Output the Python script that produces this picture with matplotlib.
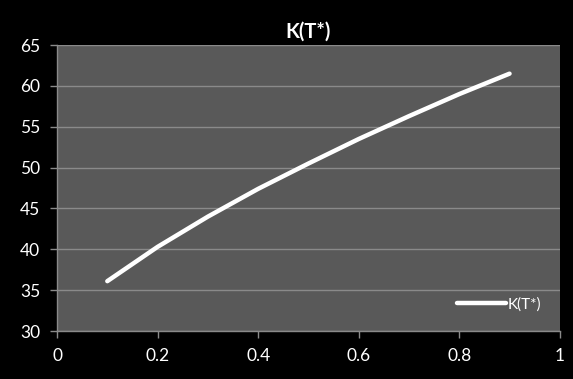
import numpy as np
import matplotlib
matplotlib.use("Agg")
import matplotlib.pyplot as plt
from matplotlib.ticker import FuncFormatter

# data
t_star = [0.1, 0.2, 0.3, 0.4, 0.5, 0.6, 0.7, 0.8, 0.9]
k_values = [36.1, 40.3, 44.0, 47.4, 50.5, 53.5, 56.3, 59.0, 61.5]
x_ticks = [0, 0.2, 0.4, 0.6, 0.8, 1]
y_ticks = [30, 35, 40, 45, 50, 55, 60, 65]

plt.rcParams['font.family'] = ['Lato', 'DejaVu Sans']

fig = plt.figure(figsize=(5.73, 3.79), dpi=100, facecolor='black')
ax = fig.add_axes([0.0995, 0.1266, 0.8775, 0.7545])
ax.set_facecolor('#595959')

ax.plot(t_star, k_values, color='white', linewidth=3.2,
        solid_capstyle='round', label='K(T*)', zorder=3)

ax.set_xlim(0, 1)
ax.set_ylim(30, 65)
ax.set_xticks(x_ticks)
ax.set_yticks(y_ticks)
ax.xaxis.set_major_formatter(FuncFormatter(lambda v, p: '%g' % v))

ax.grid(axis='y', color='#8a8a8a', linewidth=1)
ax.set_axisbelow(True)

for side in ['top', 'right']:
    ax.spines[side].set_visible(False)
for side in ['left', 'bottom']:
    ax.spines[side].set_color('#8a8a8a')
    ax.spines[side].set_linewidth(1)

ax.tick_params(colors='#8a8a8a', labelcolor='white', labelsize=12.5,
               length=5, width=1, direction='out')
ax.tick_params(axis='x', pad=7)
ax.tick_params(axis='y', pad=7)

ax.set_title('K(T*)', color='white', fontsize=14.5, fontweight='bold', pad=5)

leg = ax.legend(loc='lower right', frameon=False, fontsize=11,
                handlelength=3.2, handletextpad=0.1,
                bbox_to_anchor=(0.99, 0.02))
for txt in leg.get_texts():
    txt.set_color('white')

fig.savefig('out.png', dpi=100, facecolor='black')
